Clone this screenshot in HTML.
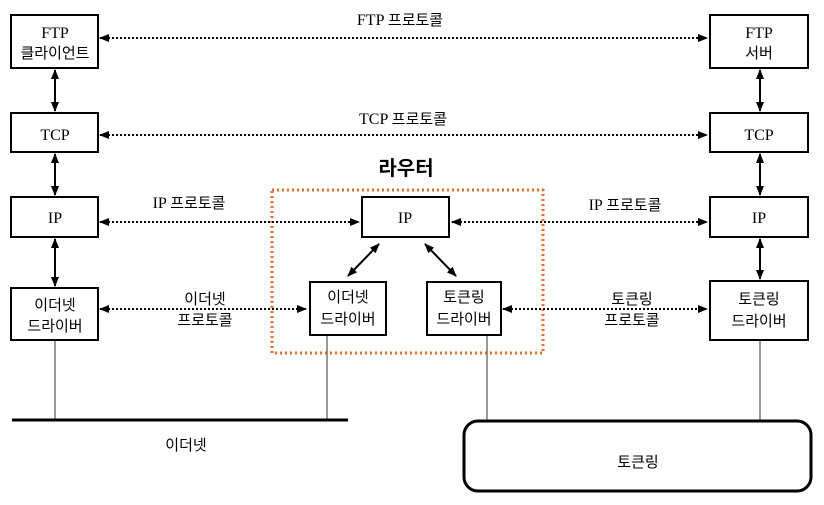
<!DOCTYPE html>
<html><head><meta charset="utf-8"><style>
body{margin:0;background:#fff;}
svg text{font-family:"Liberation Serif","Noto Sans CJK KR",serif;font-size:16px;fill:#000;}
.k{font-family:"Liberation Sans","Noto Sans CJK KR",sans-serif;font-size:15px;}
</style></head><body>
<svg width="824" height="500" viewBox="0 0 824 500" xmlns="http://www.w3.org/2000/svg">
<defs>
<marker id="a" markerWidth="10" markerHeight="8" refX="9" refY="4" orient="auto-start-reverse" markerUnits="userSpaceOnUse"><path d="M0,0 L10,4 L0,8 z" fill="#000"/></marker>
</defs>
<g fill="#fff" stroke="#000" stroke-width="2">
<rect x="11" y="15" width="87" height="53"/>
<rect x="11" y="113" width="87" height="39"/>
<rect x="11" y="197" width="87" height="40"/>
<rect x="11" y="288" width="87" height="52"/>
<rect x="710" y="15" width="98" height="53"/>
<rect x="710" y="113" width="98" height="39"/>
<rect x="710" y="197" width="98" height="40"/>
<rect x="710" y="281" width="98" height="59"/>
<rect x="362" y="197" width="87" height="40"/>
<rect x="310" y="282" width="76" height="53"/>
<rect x="427" y="282" width="74" height="53"/>
</g>
<rect x="272" y="190" width="271" height="163" fill="none" stroke="#f26b21" stroke-width="3" stroke-dasharray="2,3"/>
<g stroke="#000" stroke-width="2" stroke-dasharray="2,2" fill="none">
<line x1="100" y1="38" x2="707" y2="38" marker-start="url(#a)" marker-end="url(#a)"/>
<line x1="100" y1="135" x2="707" y2="135" marker-start="url(#a)" marker-end="url(#a)"/>
<line x1="100" y1="222" x2="359" y2="222" marker-start="url(#a)" marker-end="url(#a)"/>
<line x1="452" y1="222" x2="707" y2="222" marker-start="url(#a)" marker-end="url(#a)"/>
<line x1="100" y1="309" x2="306" y2="309" marker-start="url(#a)" marker-end="url(#a)"/>
<line x1="503" y1="309" x2="707" y2="309" marker-start="url(#a)" marker-end="url(#a)"/>
</g>
<g stroke="#000" stroke-width="2" fill="none">
<line x1="55" y1="70" x2="55" y2="111" marker-start="url(#a)" marker-end="url(#a)"/>
<line x1="55" y1="154" x2="55" y2="195" marker-start="url(#a)" marker-end="url(#a)"/>
<line x1="55" y1="239" x2="55" y2="286" marker-start="url(#a)" marker-end="url(#a)"/>
<line x1="760" y1="70" x2="760" y2="111" marker-start="url(#a)" marker-end="url(#a)"/>
<line x1="760" y1="154" x2="760" y2="195" marker-start="url(#a)" marker-end="url(#a)"/>
<line x1="760" y1="239" x2="760" y2="279" marker-start="url(#a)" marker-end="url(#a)"/>
<line x1="379" y1="244" x2="348" y2="276" marker-start="url(#a)" marker-end="url(#a)"/>
<line x1="425" y1="244" x2="456" y2="276" marker-start="url(#a)" marker-end="url(#a)"/>
</g>
<g stroke="#555" stroke-width="1.2">
<line x1="55" y1="341" x2="55" y2="420"/>
<line x1="327" y1="336" x2="327" y2="420"/>
<line x1="487" y1="336" x2="487" y2="420"/>
<line x1="760" y1="341" x2="760" y2="420"/>
</g>
<line x1="12" y1="420" x2="348" y2="420" stroke="#000" stroke-width="3"/>
<rect x="464" y="421" width="347" height="70" rx="14" fill="#fff" stroke="#000" stroke-width="3"/>
<g text-anchor="middle">
<text x="55" y="38">FTP</text><text x="55" y="58" class="k">클라이언트</text>
<text x="55" y="140">TCP</text>
<text x="55" y="223">IP</text>
<text x="55" y="310" class="k">이더넷</text><text x="55" y="331" class="k">드라이버</text>
<text x="759" y="38">FTP</text><text x="759" y="58" class="k">서버</text>
<text x="759" y="140">TCP</text>
<text x="759" y="223">IP</text>
<text x="759" y="304" class="k">토큰링</text><text x="759" y="326" class="k">드라이버</text>
<text x="405" y="223">IP</text>
<text x="348" y="302" class="k">이더넷</text><text x="348" y="324" class="k">드라이버</text>
<text x="464" y="302" class="k">토큰링</text><text x="464" y="324" class="k">드라이버</text>
<text x="400" y="25">FTP <tspan class="k">프로토콜</tspan></text>
<text x="403" y="124">TCP <tspan class="k">프로토콜</tspan></text>
<text x="189" y="208">IP <tspan class="k">프로토콜</tspan></text>
<text x="625" y="210">IP <tspan class="k">프로토콜</tspan></text>
<text x="205" y="304" class="k">이더넷</text><text x="205" y="325" class="k">프로토콜</text>
<text x="632" y="304" class="k">토큰링</text><text x="632" y="325" class="k">프로토콜</text>
<text x="186" y="450" class="k">이더넷</text>
<text x="638" y="467" class="k">토큰링</text>
<text x="406" y="175" class="k" style="font-size:20px;font-weight:bold">라우터</text>
</g>
</svg>
</body></html>
